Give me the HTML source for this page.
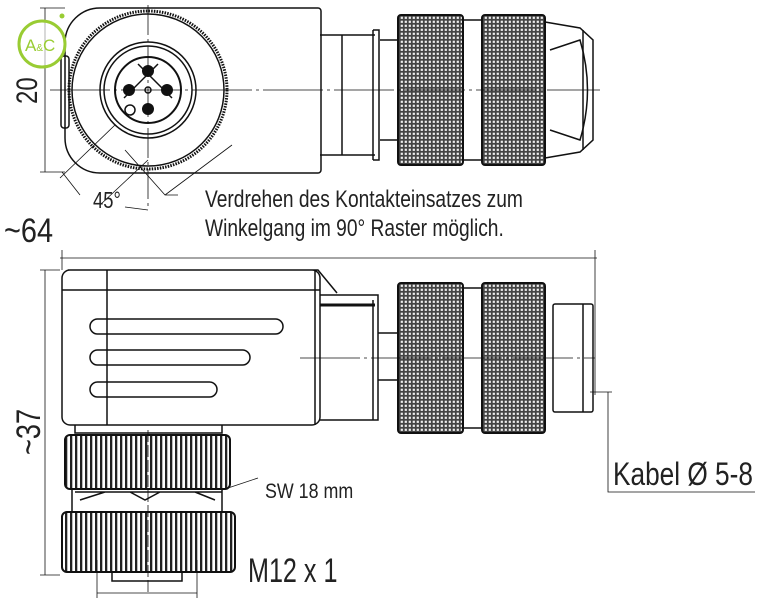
<!DOCTYPE html>
<html><head><meta charset="utf-8"><style>
html,body{margin:0;padding:0;background:#fff}
svg{display:block}
text{font-family:"Liberation Sans",sans-serif;fill:#222}
</style></head><body>
<svg width="764" height="600" viewBox="0 0 764 600" xmlns="http://www.w3.org/2000/svg">
<defs>
<pattern id="kn" width="4" height="4" patternUnits="userSpaceOnUse">
<rect width="4" height="4" fill="#444"/>
<rect x="0.7" y="0.7" width="2.2" height="2.2" fill="#eee"/>
</pattern>
<pattern id="vs" width="5" height="10" patternUnits="userSpaceOnUse">
<rect width="5" height="10" fill="#fff"/>
<rect width="2.3" height="10" fill="#222"/>
</pattern>
</defs>
<g fill="none" stroke="#111" stroke-width="1.5">
<!-- TOP VIEW -->
<path d="M100 8 H318 a3 3 0 0 1 3 3 V170 a3 3 0 0 1 -3 3 H100 a35 35 0 0 1 -35 -35 V42 a35 35 0 0 1 35 -34Z"/>
<rect x="61" y="56" width="8" height="72" rx="3"/>
<circle cx="148" cy="90" r="79" stroke-width="3" stroke-dasharray="1.5 1.2"/>
<circle cx="148" cy="90" r="76"/>
<circle cx="148" cy="90" r="48"/>
<circle cx="148" cy="90" r="44"/>
<circle cx="148" cy="90" r="33" stroke-width="2"/>
<line x1="138" y1="64" x2="172" y2="98"/><line x1="158" y1="64" x2="124" y2="98"/>
<circle cx="148" cy="90" r="3"/>
<circle cx="130" cy="110" r="5"/>
<line x1="320" y1="35" x2="375" y2="35"/><line x1="320" y1="155" x2="375" y2="155"/>
<line x1="342" y1="35" x2="342" y2="155"/><line x1="373" y1="30" x2="373" y2="160"/>
<path d="M373 30 h6 v130 h-6"/>
<line x1="380" y1="40" x2="398" y2="40"/><line x1="380" y1="140" x2="398" y2="140"/>
<rect x="398" y="15" width="65" height="150" rx="3" fill="url(#kn)" stroke-width="2"/>
<rect x="463" y="20" width="19" height="140"/>
<rect x="482" y="15" width="63" height="150" rx="3" fill="url(#kn)" stroke-width="2"/>
<path d="M545 22 L580 28 L593 40 V140 L580 152 L545 158"/>
<line x1="583" y1="30" x2="583" y2="150"/>
<path d="M550 50 L580 40 Q595 90 580 140 L550 130"/>
<!-- BOTTOM VIEW -->
<path d="M68 270 H318 L337 293 M62 278 a8 8 0 0 1 8 -8 M62 278 V417 a8 8 0 0 0 8 8 H312 a8 8 0 0 0 8 -8 V278 a8 8 0 0 0 -8 -8"/>
<line x1="62" y1="290" x2="320" y2="290"/>
<line x1="107" y1="270" x2="107" y2="425"/>
<line x1="315" y1="270" x2="315" y2="425"/>
<rect x="90" y="319" width="193" height="15" rx="7.5"/>
<rect x="90" y="350" width="160" height="15" rx="7.5"/>
<rect x="90" y="382" width="127" height="15" rx="7.5"/>
<path d="M320 295 H378 V420 H320"/>
<line x1="320" y1="305" x2="375" y2="305" stroke-width="3"/>
<line x1="373" y1="300" x2="373" y2="420"/>
<path d="M378 333 H398 M378 380 H398"/>
<rect x="398" y="283" width="65" height="150" rx="3" fill="url(#kn)" stroke-width="2"/>
<rect x="463" y="288" width="19" height="140"/>
<rect x="482" y="283" width="63" height="150" rx="3" fill="url(#kn)" stroke-width="2"/>
<rect x="553" y="304" width="40" height="108" rx="2"/>
<line x1="583" y1="304" x2="583" y2="412"/>
<!-- nuts -->
<path d="M75 425 V433 H222 V425"/>
<rect x="65" y="435" width="165" height="54" rx="5" fill="url(#vs)" stroke-width="2"/>
<path d="M72 490 V512 M222 490 V512 M75 492 H222 M80 500 L105 492 M215 500 L195 492 M130 492 L145 500 L160 492"/>
<rect x="62" y="512" width="173" height="60" rx="5" fill="url(#vs)" stroke-width="2"/>
<rect x="112" y="572" width="70" height="9"/>
</g>
<!-- contacts -->
<g fill="#111">
<circle cx="148" cy="71" r="6"/><circle cx="148" cy="109" r="6"/>
<circle cx="129" cy="90" r="6"/><circle cx="167" cy="90" r="6"/>
</g>
<!-- centerlines -->
<g stroke="#111" stroke-width="0.8" fill="none">
<line x1="148" y1="5" x2="148" y2="210" stroke-dasharray="30 4 3 4"/>
<line x1="50" y1="90" x2="600" y2="90" stroke-dasharray="60 4 3 4"/>
<line x1="300" y1="358" x2="595" y2="358" stroke-dasharray="60 4 3 4"/>
<line x1="148" y1="430" x2="148" y2="595" stroke-dasharray="12 3"/>
<line x1="45" y1="8" x2="45" y2="172"/><line x1="40" y1="8" x2="65" y2="8"/><line x1="40" y1="172" x2="65" y2="172"/>
<line x1="45" y1="270" x2="45" y2="575"/><line x1="40" y1="270" x2="60" y2="270"/><line x1="40" y1="575" x2="60" y2="575"/>
<line x1="60" y1="258" x2="597" y2="258"/><line x1="62" y1="250" x2="62" y2="270"/><line x1="595" y1="250" x2="595" y2="395"/>
<line x1="97" y1="560" x2="97" y2="598"/><line x1="197" y1="560" x2="197" y2="598"/><line x1="97" y1="593" x2="197" y2="593"/>
<path d="M590 392 H612 M608 392 V492 H755"/>
<path d="M60 178 L115 125 M100 205 L148 160 M165 195 L232 145 M125 150 L165 195 L178 195 M62 172 L80 195 M125 207 L148 210"/>
<line x1="222" y1="490" x2="258" y2="478"/>
</g>
<text font-size="23" transform="translate(93 208) scale(0.8 1)">45°</text>
<text font-size="24" transform="translate(205 207) scale(0.8 1)">Verdrehen des Kontakteinsatzes zum</text>
<text font-size="24" transform="translate(205 236) scale(0.8 1)">Winkelgang im 90° Raster möglich.</text>
<text font-size="34" transform="translate(4 242) scale(0.85 1)">~64</text>
<text font-size="30" transform="translate(37 104) rotate(-90) scale(0.8 1)">20</text>
<text font-size="34" transform="translate(40 455) rotate(-90) scale(0.8 1)">~37</text>
<text font-size="21" transform="translate(265 498) scale(0.85 1)">SW 18 mm</text>
<text font-size="34" transform="translate(248 582) scale(0.74 1)">M12 x 1</text>
<text font-size="32" transform="translate(613 485) scale(0.82 1)">Kabel Ø 5-8</text>
<!-- logo -->
<circle cx="42" cy="44" r="23" fill="#fff" fill-opacity="0.6" stroke="#9c3" stroke-width="3"/>
<circle cx="62" cy="16" r="2.5" fill="#9c3"/>
<text x="25" y="51" font-size="17" style="fill:#9c3">A<tspan font-size="10">&amp;</tspan>C</text>
</svg>
</body></html>
